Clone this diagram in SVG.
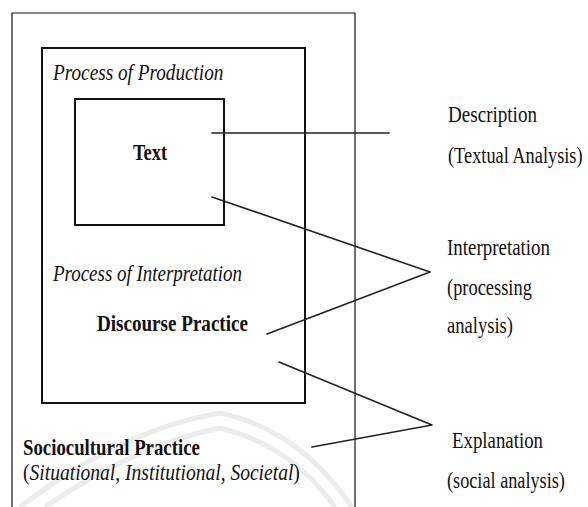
<svg xmlns="http://www.w3.org/2000/svg" width="588" height="507" viewBox="0 0 588 507">
<style>
text{font-family:"Liberation Serif","Times New Roman",serif;font-size:24px;fill:#111}
.it{font-style:italic}
.b{font-weight:bold}
.box{fill:none;stroke:#111}
.conn{fill:none;stroke:#222;stroke-width:1.6;stroke-linecap:round;stroke-linejoin:round}
.wm{fill:none;stroke:#ececec;stroke-width:5}
</style>
<rect width="588" height="507" fill="#fff"/>
<g id="watermark">
<path class="wm" d="M20,507 Q120,430 220,413 Q300,430 352,507"/>
<path class="wm" d="M45,507 Q135,445 220,428 Q290,445 335,507"/>
</g>
<g id="sociocultural">
<path class="box" stroke-width="1.2" d="M12,507 V13 H355 V507"/>
<text class="b" transform="translate(23,455) scale(0.783,1)">Sociocultural Practice</text>
<text transform="translate(23,480) scale(0.815,1)">(<tspan class="it">Situational</tspan>, <tspan class="it">Institutional</tspan>, <tspan class="it">Societal</tspan>)</text>
</g>
<g id="discourse">
<rect class="box" stroke-width="2" x="42" y="48" width="263" height="355"/>
<text class="it" transform="translate(53,80) scale(0.801,1)">Process of Production</text>
<text class="it" transform="translate(53,281) scale(0.79,1)">Process of Interpretation</text>
<text class="b" transform="translate(97,331) scale(0.795,1)">Discourse Practice</text>
</g>
<g id="text">
<rect class="box" stroke-width="2" x="75" y="99" width="149" height="126"/>
<text class="b" transform="translate(133,160) scale(0.77,1)">Text</text>
</g>
<g id="connectors">
<path class="conn" d="M212,133 H389"/>
<path class="conn" d="M212,197 L430,272 L267,334"/>
<path class="conn" d="M279,362 L432,425 L312,447"/>
</g>
<g id="description">
<text transform="translate(448,122) scale(0.795,1)">Description</text>
<text transform="translate(448,163) scale(0.764,1)">(Textual Analysis)</text>
</g>
<g id="interpretation">
<text transform="translate(447,255) scale(0.789,1)">Interpretation</text>
<text transform="translate(447,295) scale(0.768,1)">(processing</text>
<text transform="translate(447,333) scale(0.774,1)">analysis)</text>
</g>
<g id="explanation">
<text transform="translate(452,448) scale(0.785,1)">Explanation</text>
<text transform="translate(447,488) scale(0.76,1)">(social analysis)</text>
</g>
</svg>
